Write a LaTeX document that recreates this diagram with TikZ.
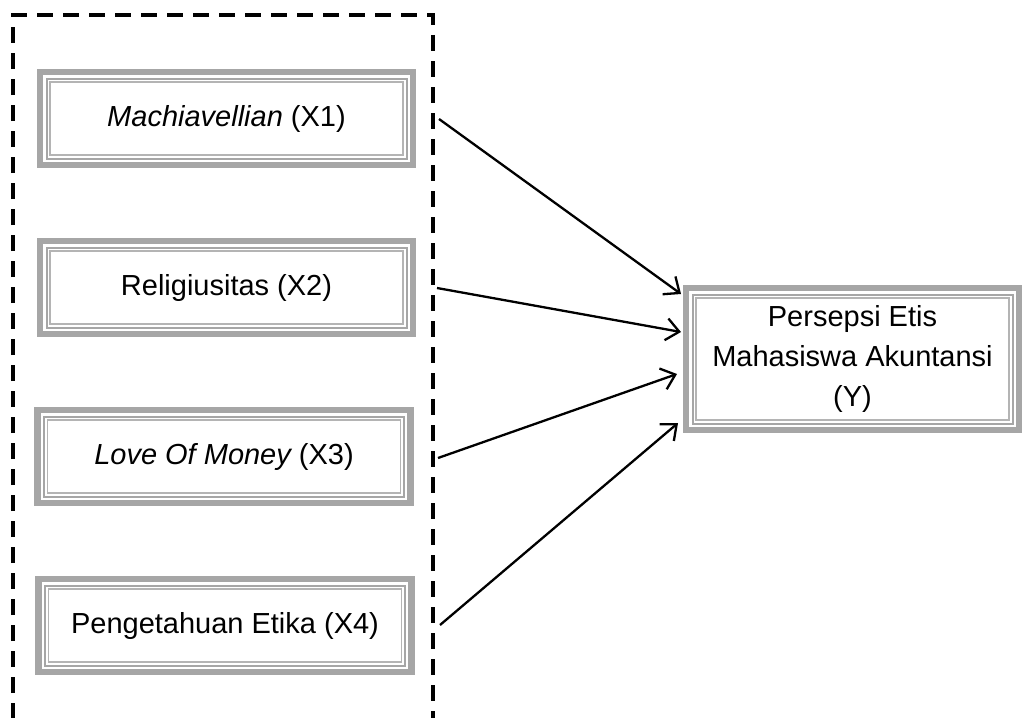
\documentclass[tikz,border=0pt]{standalone}
\usepackage{fontspec}
\setmainfont{Liberation Sans}
\usetikzlibrary{arrows.meta,calc}
\definecolor{band}{HTML}{A6A6A6}
\definecolor{thinline}{HTML}{B4B4B4}
\begin{document}
\begin{tikzpicture}[x=1pt,y=-1pt,
  framebox/.style={draw=band, line width=6.5pt, fill=white, inner sep=0pt,
    font=\fontsize{29}{40}\selectfont, align=center,
    path picture={
      \draw[band, line width=2pt]
        ($(path picture bounding box.north west)+(6.5,6.5)$) rectangle
        ($(path picture bounding box.south east)+(-6.5,-6.5)$);
      \draw[thinline, line width=1.2pt]
        ($(path picture bounding box.north west)+(10,10)$) rectangle
        ($(path picture bounding box.south east)+(-10,-10)$);
    }},
  varbox/.style={framebox, minimum width=373pt, minimum height=93pt},
  dashframe/.style={draw=black, line width=3.5pt, dash pattern=on 16pt off 10pt},
  arr/.style={draw=black, line width=2.3pt, -{Straight Barb[length=13pt,width=22pt]}}]
\useasboundingbox (0,0) rectangle (1024,717);

\draw[dashframe] (13,745) -- (13,15) -- (433,15) -- (433,745);

\node[varbox] (x1) at (226.5,118.5) {\raisebox{4pt}{{\itshape Machiavellian} (X1)}};
\node[varbox] (x2) at (226.5,287.5) {\raisebox{3pt}{Religiusitas (X2)}};
\node[varbox] (x3) at (224,456.5) {\raisebox{3pt}{{\itshape Love Of Money} (X3)}};
\node[varbox] (x4) at (225,625.5) {Pengetahuan Etika (X4)};

\node[framebox, minimum width=333pt, minimum height=142pt] (y) at (852.5,359)
  {Persepsi Etis\\Mahasiswa Akuntansi\\(Y)};

\coordinate (s1) at (439,119);
\coordinate (s2) at (437,288);
\coordinate (s3) at (438,458);
\coordinate (s4) at (440,625);
\coordinate (t1) at (681,294);
\coordinate (t2) at (681,332);
\coordinate (t3) at (677,374);
\coordinate (t4) at (678,423);

\draw[arr] (s1) -- (t1);
\draw[arr] (s2) -- (t2);
\draw[arr] (s3) -- (t3);
\draw[arr] (s4) -- (t4);
\end{tikzpicture}
\end{document}
